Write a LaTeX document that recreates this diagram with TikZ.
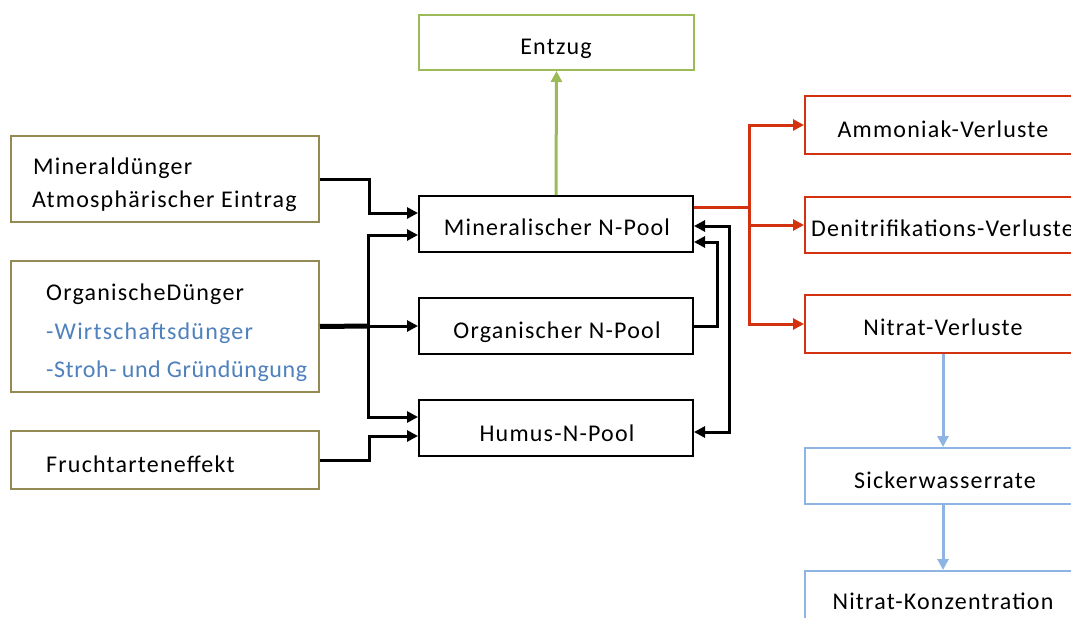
\documentclass[tikz,border=0pt]{standalone}
\usepackage{fontspec}
\setmainfont{Carlito}[LetterSpace=5.0]
\usetikzlibrary{arrows.meta}
\definecolor{olivebd}{HTML}{948A54}
\definecolor{greenbd}{HTML}{9BBB59}
\definecolor{redbd}{HTML}{D2320F}
\definecolor{bluebd}{HTML}{8DB4E2}
\definecolor{bluetxt}{HTML}{4F81BD}
\begin{document}
\begin{tikzpicture}[x=1pt,y=-1pt,
  font=\fontsize{24}{29}\selectfont,
  boxbase/.style={draw, line width=2pt, inner sep=0pt, fill=white},
  srcbox/.style={boxbase, draw=olivebd},
  poolbox/.style={boxbase, draw=black},
  lossbox/.style={boxbase, draw=redbd},
  waterbox/.style={boxbase, draw=bluebd},
  takebox/.style={boxbase, draw=greenbd},
  lbl/.style={inner sep=0pt, anchor=base},
  lbll/.style={inner sep=0pt, anchor=base west},
  tip/.style={-{Triangle[length=11pt,width=11pt]}},
  conn/.style={line width=3pt, tip},
  biconn/.style={line width=3pt, {Triangle[length=11pt,width=11pt]}-{Triangle[length=11pt,width=11pt]}},
  redconn/.style={line width=3pt, draw=redbd, tip},
  greenconn/.style={line width=3pt, draw=greenbd, tip},
  blueconn/.style={line width=3pt, draw=bluebd, tip},
]
\useasboundingbox (0,0) rectangle (1071,618);
\clip (0,0) rectangle (1071,618);

% input boxes
\node[srcbox, minimum width=308pt, minimum height=86pt] (mdbox) at (165,179) {};
\node[srcbox, minimum width=308pt, minimum height=131pt] (ogbox) at (165,326.5) {};
\node[srcbox, minimum width=308pt, minimum height=58pt] (fbox) at (165,460) {};
\node[lbll] (md1) at (33,174) {Mineraldünger};
\node[lbll] (md2) at (32,207) {Atmosphärischer Eintrag};
\node[lbll] (og1) at (46,300) {OrganischeDünger};
\node[lbll, text=bluetxt] (og2) at (46,339) {-Wirtschaftsdünger};
\node[lbll, text=bluetxt] (og3) at (46,377) {\addfontfeatures{LetterSpace=2.5}-Stroh-\kern-1pt{} und Gründüngung};
\node[lbll] (fr1) at (46,472) {Fruchtarteneffekt};

% nitrogen pools
\node[poolbox, minimum width=274pt, minimum height=56pt] (mineral) at (556,224) {};
\node[poolbox, minimum width=274pt, minimum height=56pt] (organ) at (556,326) {};
\node[poolbox, minimum width=274pt, minimum height=56pt] (humus) at (556,428) {};
\node[lbl] (minlbl) at (557,235) {Mineralischer N-Pool};
\node[lbl] (orglbl) at (557,338) {Organischer N-Pool};
\node[lbl] (humlbl) at (557,441) {Humus-N-Pool};

% uptake
\node[takebox, minimum width=275pt, minimum height=55pt] (entzug) at (556.5,42.5) {};
\node[lbl] (entlbl) at (556,55) {Entzug};

% losses
\node[lossbox, minimum width=276pt, minimum height=58pt] (amm) at (943,125) {};
\node[lossbox, minimum width=276pt, minimum height=56pt] (den) at (943,225) {};
\node[lossbox, minimum width=276pt, minimum height=58pt] (nit) at (943,324) {};
\node[lbl] (ammlbl) at (943,137) {Ammoniak-Verluste};
\node[lbll] (denlbl) at (811,236) {Denitrifikations-Verluste};
\node[lbl] (nitlbl) at (943,335) {Nitrat-Verluste};

% leaching
\node[waterbox, minimum width=276pt, minimum height=56pt] (sick) at (943,476) {};
\node[waterbox, minimum width=276pt, minimum height=56pt] (konz) at (943,599) {};
\node[lbl] (sicklbl) at (945,488) {Sickerwasserrate};
\node[lbl] (konzlbl) at (943,609) {Nitrat-Konzentration};

% inputs into the pools
\draw[conn] (mdbox.east) -- ++(49,0) |- ([yshift=11pt]mineral.west);
\coordinate (split) at (368,326);
\draw[line width=5pt] (ogbox.east) -- (split);
\draw[conn] (split) -- (organ.west);
\draw[conn] (split) |- ([yshift=-11pt]mineral.west);
\draw[conn] (split) |- ([yshift=11pt]humus.west);
\draw[conn] (fbox.east) -- ++(49,0) |- ([yshift=-8pt]humus.west);

% exchange between pools
\draw[conn] (organ.east) -- ++(23,0) |- ([yshift=-18pt]mineral.east);
\draw[biconn] ([yshift=-2pt]mineral.east) -- ++(35,0) |- ([yshift=-4pt]humus.east);

% uptake
\draw[greenconn] (mineral.north) -- (entzug.south);

% losses
\coordinate (rsplit) at (749,207);
\draw[line width=3pt, draw=redbd] ([yshift=17pt]mineral.east) -- (rsplit);
\draw[redconn] (rsplit) |- (amm.west);
\draw[redconn] (rsplit) |- (den.west);
\draw[redconn] (rsplit) |- (nit.west);

% leaching chain
\draw[blueconn] (nit.south) -- (sick.north);
\draw[blueconn] (sick.south) -- (konz.north);
\end{tikzpicture}
\end{document}
